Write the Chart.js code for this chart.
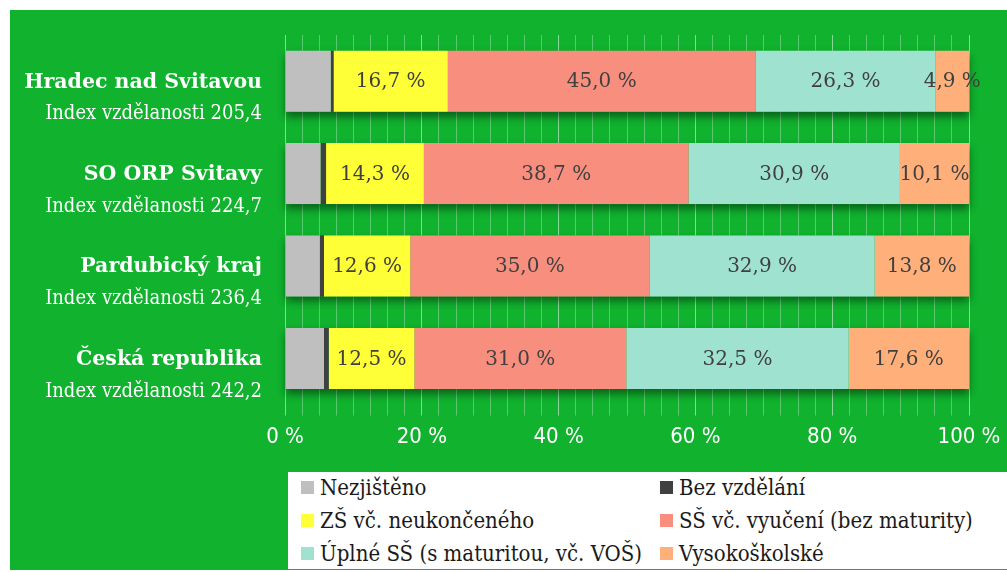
<!DOCTYPE html>
<html>
<head>
<meta charset="utf-8">
<script src="https://cdn.jsdelivr.net/npm/chart.js@4"></script>
<style>
  html, body { margin: 0; padding: 0; background: #fff; }
  body { width: 1007px; height: 572px; position: relative; overflow: hidden; }
  #green { position: absolute; left: 10px; top: 10px; width: 997px; height: 560px; background: #10b22e; }
  #wrap { position: absolute; left: 0; top: 0; width: 1007px; height: 470px; }
  #legend { position: absolute; left: 288px; top: 472px; width: 719px; height: 97px; background: #fff; }
  .item { position: absolute; display: flex; align-items: center; height: 30px;
          font-family: "DejaVu Serif Condensed", "DejaVu Serif", serif; font-size: 22px; color: #1a1a1a; }
  .item span.box { width: 13px; height: 13px; margin-right: 6px; display: inline-block; }
</style>
</head>
<body>
<div id="green"></div>
<div id="wrap"><canvas id="chart"></canvas></div>
<div id="legend"></div>
<script>
// data
const categories = ["Hradec nad Svitavou", "SO ORP Svitavy", "Pardubický kraj", "Česká republika"];
const indexLabels = ["Index vzdělanosti 205,4", "Index vzdělanosti 224,7", "Index vzdělanosti 236,4", "Index vzdělanosti 242,2"];
const seriesNames = ["Nezjištěno", "Bez vzdělání", "ZŠ vč. neukončeného", "SŠ vč. vyučení (bez maturity)", "Úplné SŠ (s maturitou, vč. VOŠ)", "Vysokoškolské"];
const nezjisteno = [6.7, 5.2, 5.1, 5.7];
const bezVzdelani = [0.4, 0.8, 0.6, 0.7];
const zakladni = [16.7, 14.3, 12.6, 12.5];
const vyuceni = [45.0, 38.7, 35.0, 31.0];
const maturita = [26.3, 30.9, 32.9, 32.5];
const vysokoskolske = [4.9, 10.1, 13.8, 17.6];
const xTickValues = [0, 20, 40, 60, 80, 100];

const colors = ["#bfbfbf", "#404040", "#ffff38", "#f88e7e", "#a0e2d0", "#ffb07a"];
const seriesValues = [nezjisteno, bezVzdelani, zakladni, vyuceni, maturita, vysokoskolske];

const fmt = v => v.toFixed(1).replace(".", ",") + " %";

// shadow under each whole bar, drawn before the segments
const barShadow = {
    id: "barShadow",
    beforeDatasetsDraw(chart) {
        const ctx = chart.ctx;
        const first = chart.getDatasetMeta(0).data;
        const last = chart.getDatasetMeta(seriesValues.length - 1).data;
        ctx.save();
        ctx.shadowColor = "rgba(0,0,0,0.45)";
        ctx.shadowBlur = 8;
        ctx.shadowOffsetY = 5;
        ctx.fillStyle = "#10b22e";
        first.forEach((el, i) => {
            const top = el.y - el.height / 2;
            ctx.fillRect(el.base, top, last[i].x - el.base, el.height);
        });
        ctx.restore();
    }
};

const segmentLabels = {
    id: "segmentLabels",
    afterDatasetsDraw(chart) {
        const ctx = chart.ctx;
        ctx.save();
        ctx.font = '20px "DejaVu Serif", serif';
        ctx.fillStyle = "#404040";
        ctx.textAlign = "center";
        ctx.textBaseline = "middle";
        for (let d = 2; d < seriesValues.length; d++) {
            chart.getDatasetMeta(d).data.forEach((el, i) => {
                ctx.fillText(fmt(seriesValues[d][i]), (el.x + el.base) / 2, el.y + 1);
            });
        }
        ctx.restore();
    }
};

const categoryLabels = {
    id: "categoryLabels",
    afterDraw(chart) {
        const ctx = chart.ctx;
        const yScale = chart.scales.y;
        ctx.save();
        ctx.fillStyle = "#fff";
        ctx.textAlign = "right";
        ctx.textBaseline = "middle";
        categories.forEach((c, i) => {
            const y = yScale.getPixelForValue(i);
            ctx.font = 'bold 20.5px "DejaVu Serif", serif';
            ctx.fillText(c, 262, y + 1);
            ctx.font = '20px "DejaVu Serif Condensed", "DejaVu Serif", serif';
            ctx.fillText(indexLabels[i], 262, y + 33);
        });
        ctx.restore();
    }
};

const chart = new Chart(document.getElementById("chart"), {
    type: "bar",
    data: {
        labels: categories,
        datasets: seriesNames.map((name, idx) => ({
            label: name,
            data: seriesValues[idx],
            backgroundColor: colors[idx],
            borderWidth: 0,
            barPercentage: 0.66,
            categoryPercentage: 1.0
        }))
    },
    options: {
        indexAxis: "y",
        responsive: true,
        maintainAspectRatio: false,
        animation: false,
        layout: { padding: { left: 277, right: 38, top: 35, bottom: 12 } },
        plugins: {
            legend: { display: false },
            tooltip: { enabled: false }
        },
        scales: {
            x: {
                stacked: true,
                min: 0,
                max: 100,
                border: { display: false },
                afterFit: s => { s.paddingRight = 0; },
                grid: {
                    color: c => (c.tick && c.tick.value % 20 === 0) ? "rgba(255,255,255,0.5)" : "rgba(255,255,255,0.3)",
                    lineWidth: 1,
                    tickLength: 11
                },
                ticks: {
                    stepSize: 2.5,
                    autoSkip: false,
                    maxRotation: 0,
                    padding: 8,
                    color: "#fff",
                    font: { family: '"DejaVu Sans Condensed", sans-serif', size: 22 },
                    callback: v => xTickValues.includes(v) ? v + " %" : ""
                }
            },
            y: {
                stacked: true,
                border: { display: false },
                grid: { display: false },
                ticks: { display: false }
            }
        }
    },
    plugins: [barShadow, segmentLabels, categoryLabels]
});

// legend built from the chart's datasets, two columns
const legend = document.getElementById("legend");
chart.data.datasets.forEach((ds, i) => {
    const item = document.createElement("div");
    item.className = "item";
    item.style.left = (i % 2 === 0 ? 13 : 372) + "px";
    item.style.top = (Math.floor(i / 2) * 33) + "px";
    item.innerHTML = '<span class="box" style="background:' + ds.backgroundColor + '"></span>' + ds.label;
    legend.appendChild(item);
});
</script>
</body>
</html>
